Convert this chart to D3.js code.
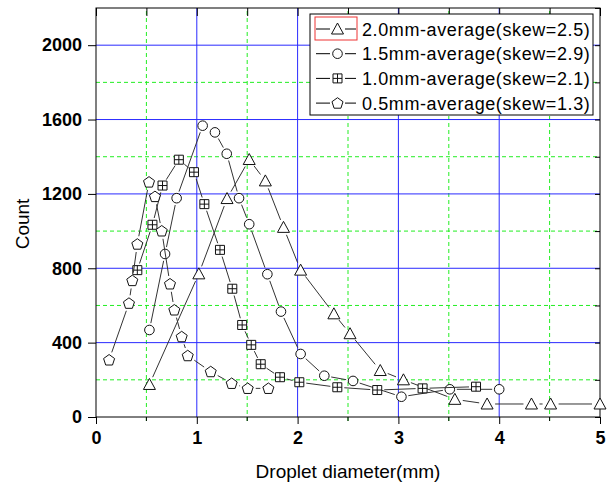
<!DOCTYPE html>
<html>
<head>
    <script src="https://d3js.org/d3.v7.min.js"></script>
    <style>
        body { margin: 0; background: #fff; }
        text { font-family: Arial, "Liberation Sans", sans-serif; fill: #000; }
        .tick-label { font-size: 18px; font-weight: bold; }
        .title { font-size: 19px; }
        .legend text { font-size: 18px; letter-spacing: 0.6px; }
    </style>
</head>
<body>
<script>
// droplet diameter (mm) / count
var tri_x = [0.53, 1.02, 1.30, 1.52, 1.68, 1.86, 2.03, 2.36, 2.52, 2.82, 3.05, 3.56, 3.88, 4.32, 4.51, 5.0];
var tri_y = [175, 770, 1175, 1385, 1270, 1020, 790, 555, 448, 250, 200, 95, 70, 70, 70, 70];

var circ_x = [0.53, 0.685, 0.80, 1.058, 1.18, 1.297, 1.419, 1.52, 1.70, 1.835, 2.03, 2.265, 2.55, 3.03, 3.51, 4.0];
var circ_y = [468, 877, 1177, 1567, 1531, 1416, 1177, 1037, 768, 567, 339, 222, 194, 109, 149, 149];

var sq_x = [0.41, 0.56, 0.66, 0.822, 0.972, 1.075, 1.23, 1.352, 1.45, 1.54, 1.634, 1.825, 2.017, 2.394, 2.79, 3.24, 3.77];
var sq_y = [790, 1034, 1245, 1384, 1317, 1145, 899, 690, 495, 388, 284, 214, 187, 160, 145, 154, 163];

var pent_x = [0.13, 0.327, 0.36, 0.41, 0.526, 0.585, 0.652, 0.734, 0.777, 0.85, 0.91, 1.138, 1.346, 1.505, 1.71];
var pent_y = [307, 612, 734, 930, 1264, 1186, 1001, 716, 576, 432, 330, 244, 181, 154, 154];

var legendNames = ["2.0mm-average(skew=2.5)", "1.5mm-average(skew=2.9)",
                   "1.0mm-average(skew=2.1)", "0.5mm-average(skew=1.3)"];
var xTicks = [0, 1, 2, 3, 4, 5];
var yTicks = [0, 400, 800, 1200, 1600, 2000];

var width = 609, height = 489;
var svg = d3.select("body").append("svg")
    .attr("width", width)
    .attr("height", height);

var x = d3.scaleLinear().domain([0, 5]).range([96, 600]);
var y = d3.scaleLinear().domain([0, 2200]).range([417, 8]);

var minorX = d3.range(0.5, 5, 1);
var minorY = d3.range(200, 2200, 400);

// grid
svg.selectAll(".gx-minor").data(minorX).enter().append("line")
    .attr("x1", d => x(d)).attr("x2", d => x(d))
    .attr("y1", y(0) + 4).attr("y2", y(2200))
    .attr("stroke", "#22ee22").attr("stroke-dasharray", "4,3");
svg.selectAll(".gy-minor").data(minorY).enter().append("line")
    .attr("x1", x(0)).attr("x2", x(5))
    .attr("y1", d => y(d)).attr("y2", d => y(d))
    .attr("stroke", "#22ee22").attr("stroke-dasharray", "4,3");
svg.selectAll(".gx").data([1, 2, 3, 4]).enter().append("line")
    .attr("x1", d => x(d)).attr("x2", d => x(d))
    .attr("y1", y(0)).attr("y2", y(2200))
    .attr("stroke", "#2a2aff");
svg.selectAll(".gy").data([400, 800, 1200, 1600, 2000]).enter().append("line")
    .attr("x1", x(0)).attr("x2", x(5))
    .attr("y1", d => y(d)).attr("y2", d => y(d))
    .attr("stroke", "#2a2aff");

// frame + axes
var noLabel = function() { return ""; };
var axBottom = d3.axisBottom(x).tickValues(xTicks).tickSize(7).tickFormat(d3.format("d"));
var gb = svg.append("g").attr("transform", "translate(0," + y(0) + ")").call(axBottom);
gb.select(".domain").remove();
gb.selectAll("text").attr("class", "tick-label").attr("dy", "0.95em");

var axLeft = d3.axisLeft(y).tickValues(yTicks).tickSize(8).tickPadding(6).tickFormat(d3.format("d"));
var gl = svg.append("g").attr("transform", "translate(" + x(0) + ",0)").call(axLeft);
gl.select(".domain").remove();
gl.selectAll("text").attr("class", "tick-label");

var axTop = d3.axisBottom(x).tickValues(d3.range(0, 5.01, 0.5)).tickSize(8).tickFormat(noLabel);
var gt = svg.append("g").attr("transform", "translate(0," + y(2200) + ")").call(axTop);
gt.select(".domain").remove();

var axRight = d3.axisLeft(y).tickValues(d3.range(0, 2201, 200)).tickSize(5).tickFormat(noLabel);
var gr = svg.append("g").attr("transform", "translate(" + x(5) + ",0)").call(axRight);
gr.select(".domain").remove();

svg.append("rect")
    .attr("x", x(0)).attr("y", y(2200))
    .attr("width", x(5) - x(0)).attr("height", y(0) - y(2200))
    .attr("fill", "none").attr("stroke", "#000");

svg.selectAll(".minor-tick").data(minorX).enter().append("line")
    .attr("x1", d => x(d)).attr("x2", d => x(d))
    .attr("y1", y(0)).attr("y2", y(0) + 4)
    .attr("stroke", "#000");

// symbols
function symbolPath(kind) {
    if (kind === "tri") return "M0,-6L6,5L-6,5Z";
    if (kind === "circ") return d3.symbol(d3.symbolCircle, Math.PI * 4.8 * 4.8)();
    if (kind === "sq") return "M-4.5,-4.5H4.5V4.5H-4.5ZM0,-4.5V4.5M-4.5,0H4.5";
    var p = [];
    for (var i = 0; i < 5; i++) {
        var a = -Math.PI / 2 + i * 2 * Math.PI / 5;
        p.push([5.8 * Math.cos(a), 5.8 * Math.sin(a) + 0.4]);
    }
    return "M" + p.map(q => q.join(",")).join("L") + "Z";
}

var series = [
    { kind: "tri", xs: tri_x, ys: tri_y, gap: 8 },
    { kind: "circ", xs: circ_x, ys: circ_y, gap: 7 },
    { kind: "sq", xs: sq_x, ys: sq_y, gap: 7 },
    { kind: "pent", xs: pent_x, ys: pent_y, gap: 8 }
];

series.forEach(function(s) {
    var pts = s.xs.map((v, i) => [x(v), y(s.ys[i])]);
    var g = svg.append("g");
    for (var i = 0; i < pts.length - 1; i++) {
        var a = pts[i], b = pts[i + 1];
        var dx = b[0] - a[0], dy = b[1] - a[1];
        var len = Math.sqrt(dx * dx + dy * dy);
        if (len <= 2 * s.gap) continue;
        var ux = dx / len, uy = dy / len;
        g.append("line")
            .attr("x1", a[0] + ux * s.gap).attr("y1", a[1] + uy * s.gap)
            .attr("x2", b[0] - ux * s.gap).attr("y2", b[1] - uy * s.gap)
            .attr("stroke", "#333").attr("stroke-width", 1);
    }
    g.selectAll("path").data(pts).enter().append("path")
        .attr("d", symbolPath(s.kind))
        .attr("transform", d => "translate(" + d[0] + "," + d[1] + ")")
        .attr("fill", "#fff").attr("stroke", "#111").attr("stroke-width", 1);
});

// axis titles
svg.append("text").attr("class", "title")
    .attr("x", (x(0) + x(5)) / 2).attr("y", 478)
    .attr("text-anchor", "middle")
    .text("Droplet diameter(mm)");
svg.append("text").attr("class", "title")
    .attr("transform", "translate(29,224) rotate(-90)")
    .attr("text-anchor", "middle")
    .text("Count");

// legend
var lg = svg.append("g").attr("class", "legend");
lg.append("rect").attr("x", 310).attr("y", 14).attr("width", 283).attr("height", 101)
    .attr("fill", "#fff").attr("stroke", "#000");
lg.append("rect").attr("x", 315).attr("y", 17).attr("width", 42).attr("height", 23)
    .attr("fill", "none").attr("stroke", "#e33");
series.forEach(function(s, i) {
    var cy = 29 + i * 24.7;
    lg.append("line").attr("x1", 316).attr("x2", 330).attr("y1", cy).attr("y2", cy).attr("stroke", "#000");
    lg.append("line").attr("x1", 345).attr("x2", 356).attr("y1", cy).attr("y2", cy).attr("stroke", "#000");
    lg.append("path").attr("d", symbolPath(s.kind))
        .attr("transform", "translate(337.5," + cy + ")")
        .attr("fill", "#fff").attr("stroke", "#111");
    lg.append("text").attr("x", 362).attr("y", cy + 6.5).text(legendNames[i]);
});
</script>
</body>
</html>
